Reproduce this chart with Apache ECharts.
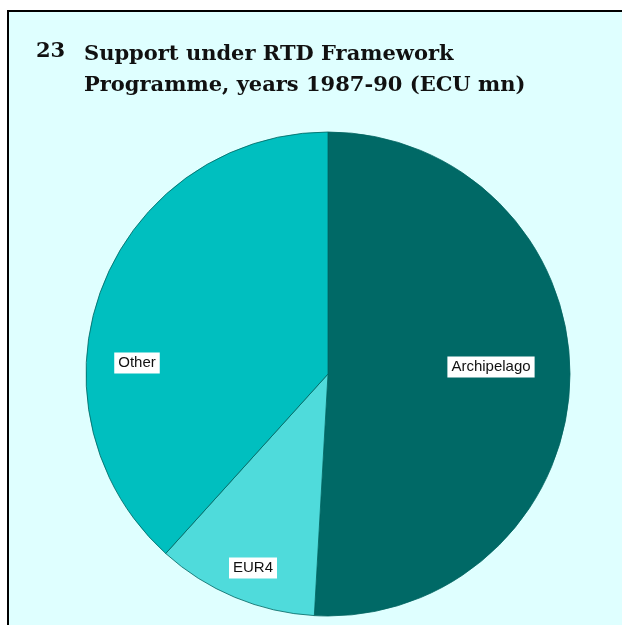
<!DOCTYPE html>
<html><head><meta charset="utf-8">
<script src="https://cdn.jsdelivr.net/npm/echarts@6/dist/echarts.min.js"></script>
<style>html,body{margin:0;padding:0;background:#fff}#c{width:622px;height:625px}</style>
</head><body><div id="c"></div>
<script>
const categories = ['Archipelago', 'EUR4', 'Other'];
const values = [50.9, 10.8, 38.3];
const colors = ['#006966', '#4fdbdb', '#00bfbf'];
const labelPos = [[491, 367], [253, 568], [137, 363]];

const chart = echarts.init(document.getElementById('c'));
chart.setOption({
  animation: false,
  backgroundColor: '#ffffff',
  graphic: [{
    type: 'rect', z: -10, silent: true,
    shape: { x: 8, y: 11, width: 640, height: 640 },
    style: { fill: '#dfffff', stroke: '#000', lineWidth: 2 }
  }],
  title: [
    { text: '23', left: 36, top: 41, padding: 0,
      textStyle: { fontFamily: 'DejaVu Serif', fontWeight: 'bold', fontSize: 21, color: '#111' } },
    { text: 'Support under RTD Framework\nProgramme, years 1987-90 (ECU mn)', left: 84, top: 39, padding: 0,
      textStyle: { fontFamily: 'DejaVu Serif', fontWeight: 'bold', fontSize: 21, lineHeight: 31, color: '#111' } }
  ],
  series: [{
    type: 'pie',
    center: [328, 374],
    radius: 242,
    startAngle: 90,
    clockwise: true,
    avoidLabelOverlap: false,
    data: categories.map((c, i) => ({ name: c, value: values[i], itemStyle: { color: colors[i] } })),
    itemStyle: { borderColor: '#006360', borderWidth: 0.8 },
    label: {
      show: true, position: 'inside', formatter: '{b}',
      color: '#111', fontFamily: 'Liberation Sans, Arial', fontSize: 15,
      backgroundColor: '#ffffff', padding: [3, 4]
    },
    labelLine: { show: false },
    labelLayout: function (p) {
      const pos = labelPos[p.dataIndex];
      return { x: pos[0], y: pos[1] };
    },
    emphasis: { disabled: true }
  }]
});
</script></body></html>
